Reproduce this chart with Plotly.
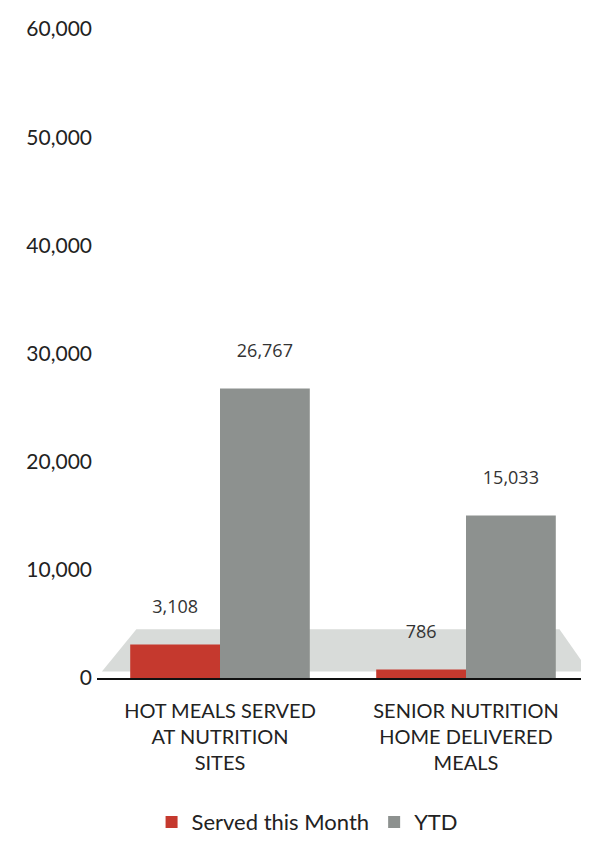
import plotly.graph_objects as go

categories = ["HOT MEALS SERVED<br>AT NUTRITION<br>SITES",
              "SENIOR NUTRITION<br>HOME DELIVERED<br>MEALS"]
served_month = [3108, 786]
ytd = [26767, 15033]
y_ticks = [0, 10000, 20000, 30000, 40000, 50000, 60000]

label_font = dict(family="Open Sans", size=18, color="#333333")

fig = go.Figure()

fig.add_trace(go.Bar(
    name="Served this Month", x=categories, y=served_month,
    marker=dict(color="#c5392e", line=dict(width=0)),
    texttemplate="%{y:,}<br> ", textposition="outside",
    textfont=label_font, cliponaxis=False,
))
fig.add_trace(go.Bar(
    name="YTD", x=categories, y=ytd,
    marker=dict(color="#8d918f", line=dict(width=0)),
    texttemplate="%{y:,}<br> ", textposition="outside",
    textfont=label_font, cliponaxis=False,
))

# light floor under the bars, like the 3D original
fig.add_shape(type="path", xref="paper", yref="paper", layer="below",
              path="M 0.01 0.01 L 1 0.01 L 0.94 0.075 L 0.08 0.075 Z",
              fillcolor="#d8dbd9", line=dict(width=0))

fig.update_layout(
    width=589, height=842,
    margin=dict(l=89, r=8, t=7, b=163),
    paper_bgcolor="white", plot_bgcolor="white",
    barmode="group", bargap=0.27, bargroupgap=0,
    font=dict(family="Lato", size=20, color="#222222"),
    showlegend=True,
    legend=dict(orientation="h", x=0.428, xanchor="center", y=-0.222, yanchor="middle",
                font=dict(family="Lato", size=22, color="#222222"),
                itemwidth=30, traceorder="normal"),
    xaxis=dict(showline=True, linecolor="#111111", linewidth=2, ticks="",
               ticklabelstandoff=14,
               tickfont=dict(family="Lato", size=20, color="#222222")),
    yaxis=dict(range=[0, 60000], tickvals=y_ticks, tickformat=",", showgrid=False,
               zeroline=False, showline=False, ticks="", ticklabelstandoff=4,
               ticklabeloverflow="allow",
               tickfont=dict(family="Lato", size=21, color="#222222")),
)

fig.write_html("out.html")
